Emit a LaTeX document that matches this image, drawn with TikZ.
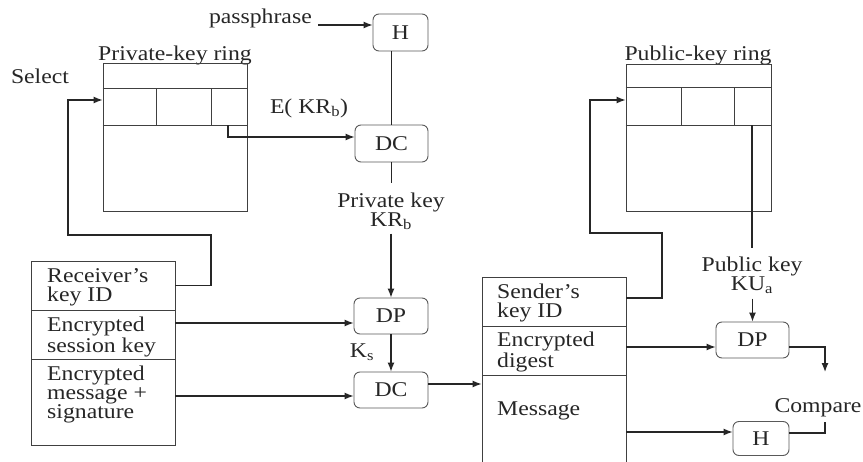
\documentclass[tikz,border=0pt]{standalone}
\usepackage{fontspec}
\setmainfont[FakeStretch=1.13]{Liberation Serif}
\usetikzlibrary{arrows.meta}
\begin{document}
\begin{tikzpicture}[x=1pt,y=-1pt,
  every node/.style={font=\fontsize{21}{19}\selectfont, text=black!85, inner sep=0pt},
  ln/.style={line width=1.2pt, draw=black!85},
  arr/.style={ln, -{Latex[length=9pt,width=7pt]}},
  thin/.style={line width=0.9pt, draw=black!75},
  proc/.style={draw=black!65, line width=0.9pt, rounded corners=6pt, minimum height=36pt},
  field/.style={thin, draw, minimum width=144pt},
  ftxt/.style={align=left, anchor=west},
  lbl/.style={align=center}]
\useasboundingbox (0,0) rectangle (863,461);

% ---------- processing boxes ----------
\node[proc, minimum width=55pt, minimum height=37pt] (h1) at (400.5,32.5) {H};
\node[proc, minimum width=73pt, minimum height=37pt] (dc1) at (391.5,143.5) {DC};
\node[proc, minimum width=74pt] (dp1) at (391,316) {DP};
\node[proc, minimum width=74pt] (dc2) at (391,390) {DC};
\node[proc, minimum width=73pt] (dp2) at (752.5,340) {DP};
\node[proc, minimum width=56pt, minimum height=34pt] (h2) at (761,438.5) {H};

% ---------- labels ----------
\node[anchor=base east] (pp) at (312,23) {passphrase};
\node[anchor=base] (sel) at (40,83) {Select};
\node[anchor=base] (prt) at (175,60) {Private-key ring};
\node[anchor=base] (put) at (698,60) {Public-key ring};
\node (ekr) at (309,108) {E( KR\textsubscript{b})};
\node[lbl] (pvk) at (391,211) {Private key\\KR\textsubscript{b}};
\node (ks) at (362,352) {K\textsubscript{s}};
\node[lbl] (pbk) at (752,275) {Public key\\KU\textsubscript{a}};
\node (cmp) at (818,408) {Compare};

% ---------- private-key ring ----------
\node[thin, draw, minimum width=144pt, minimum height=148pt] (pr) at (175,137) {};
\draw[thin] (pr.west |- 0,88) -- (pr.east |- 0,88);
\draw[thin] (pr.west |- 0,125) -- (pr.east |- 0,125);
\draw[thin] (156,88) -- (156,125);
\draw[thin] (211,88) -- (211,125);
\coordinate (prc) at (228,125);

% ---------- public-key ring ----------
\node[thin, draw, minimum width=145pt, minimum height=147pt] (pu) at (698.5,137.5) {};
\draw[thin] (pu.west |- 0,87) -- (pu.east |- 0,87);
\draw[thin] (pu.west |- 0,125) -- (pu.east |- 0,125);
\draw[thin] (681,87) -- (681,125);
\draw[thin] (734,87) -- (734,125);
\coordinate (puc) at (752,125);

% ---------- received message (left) ----------
\node[field, minimum height=49pt] (rk) at (103,285.5) {};
\node[field, minimum height=49pt] (esk) at (103,334.5) {};
\node[field, minimum height=86pt] (ems) at (103,402) {};
\node[ftxt] at (47,287) {Receiver's\\key ID};
\node[ftxt] at (47,337) {Encrypted\\session key};
\node[ftxt] at (47,394) {Encrypted\\message +\\signature};

% ---------- decrypted message (right) ----------
\node[field, minimum height=49pt] (sk) at (554,301.5) {};
\node[field, minimum height=49pt] (ed) at (554,350.5) {};
\node[field, minimum height=110pt] (msg) at (554,430) {};
\node[ftxt] at (497,303) {Sender's\\key ID};
\node[ftxt] at (497,352) {Encrypted\\digest};
\node[ftxt] at (497,411) {Message};

% ---------- connectors ----------
\draw[arr] ([xshift=6pt,yshift=-2pt]pp.base east) -- (h1.west |- 0,25);
\draw[ln] (dc1.north) -- (dc1.north |- h1.south);
\draw[arr] (prc) -- (228,137) -- (dc1.west |- 0,137);
\draw[ln] (dc1.south) -- ([yshift=9pt]pvk.north -| dc1.south);
\draw[arr] ([yshift=-4pt]pvk.south -| dp1.north) -- (dp1.north);
\draw[arr] (dp1) -- (dc2);
\draw[arr] (rk.east) -| (211,235) -| (68,100) -- (pr.west |- 0,100);
\draw[arr] (esk.east |- 0,323) -- (dp1.west |- 0,323);
\draw[arr] (ems.east |- 0,396) -- (dc2.west |- 0,396);
\draw[arr] (dc2.east |- 0,384) -- (msg.west |- 0,384);
\draw[arr] (sk.east |- 0,298) -| (662,233) -| (590,100) -- (pu.west |- 0,100);
\draw[ln] (puc) -- ([yshift=8pt]pbk.north -| puc);
\draw[arr] ([yshift=-5pt]pbk.south -| dp2.north) -- (dp2.north);
\draw[arr] (ed.east |- 0,347) -- (dp2.west |- 0,347);
\draw[arr] (dp2.east |- 0,347) -| (825,372);
\draw[arr] (msg.east |- 0,432) -- (h2.west |- 0,432);
\draw[ln] (h2.east |- 0,433) -| (825,422);
\end{tikzpicture}
\end{document}
